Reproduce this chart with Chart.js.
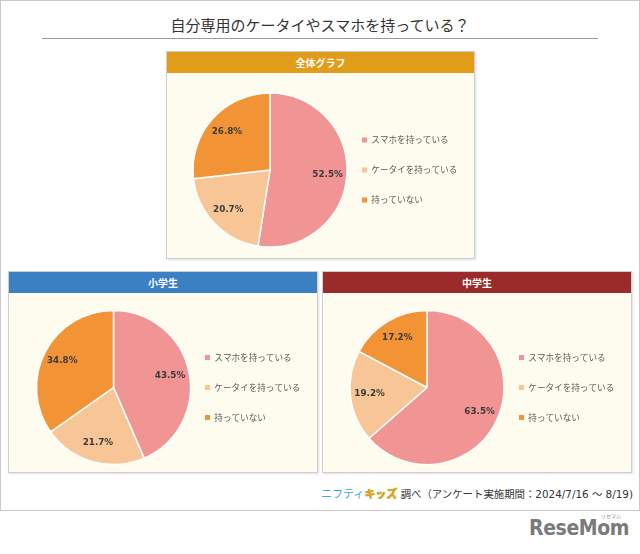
<!DOCTYPE html>
<html lang="ja">
<head>
<meta charset="utf-8">
<script src="https://cdn.jsdelivr.net/npm/chart.js@4.4.1/dist/chart.umd.min.js"></script>
<style>
  html, body { margin:0; padding:0; background:#fff; }
  body { width:640px; height:554px; position:relative; overflow:hidden;
         font-family:"DejaVu Sans","Noto Sans CJK JP",sans-serif; }
  .frame { position:absolute; left:0; top:0; width:640px; height:511px;
           box-sizing:border-box; border:1px solid #c8c8c8; }
  .title { position:absolute; left:0; top:14px; width:640px; text-align:center;
           font:15px "Noto Sans CJK JP",sans-serif; color:#333; line-height:22px; }
  .rule { position:absolute; left:42px; top:38px; width:556px; height:1px; background:#9a9a9a; }
  .panel { position:absolute; box-sizing:border-box; border:1px solid #cfcfcf;
           background:#fefcef; box-shadow:1px 1px 2px rgba(0,0,0,0.12); }
  .head { position:absolute; left:0; top:0; right:0; height:21px; color:#fff;
          font:bold 10px "Noto Sans CJK JP",sans-serif; text-align:center; line-height:21px; }
  canvas { position:absolute; }
  .foot { position:absolute; right:7px; top:485px; font-size:10.4px; line-height:16px; color:#333;
          font-family:"DejaVu Sans","Noto Sans CJK JP",sans-serif; white-space:nowrap; }
  .foot .n1 { color:#3aa6df; font-family:"Noto Sans CJK JP"; font-size:11px; }
  .foot .n2 { color:#f39a1c; font-weight:bold; font-family:"Noto Sans CJK JP"; font-size:11px;
              text-shadow:0 0 1px #7cc242, 0 0 1px #7cc242; }
  .logo { position:absolute; left:529px; top:516px; font:bold 21px "DejaVu Sans Condensed","DejaVu Sans",sans-serif;
          color:#7a7a7a; letter-spacing:-0.4px; }
  .logo small { position:absolute; left:72px; top:-4px; font:5px "Noto Sans CJK JP"; color:#888; letter-spacing:0; }
</style>
</head>
<body>
<div class="frame"></div>
<div class="title">自分専用のケータイやスマホを持っている？</div>
<div class="rule"></div>

<div class="panel" style="left:166px;top:51px;width:309px;height:208px;">
  <div class="head" style="background:#e19c1a;">全体グラフ</div>
</div>
<div class="panel" style="left:8px;top:271px;width:310px;height:202px;">
  <div class="head" style="background:#3a80c3;">小学生</div>
</div>
<div class="panel" style="left:322px;top:271px;width:310px;height:202px;">
  <div class="head" style="background:#9b2a2a;">中学生</div>
</div>

<canvas id="c0" width="307" height="185" style="left:167px;top:73px;width:307px;height:185px;"></canvas>
<canvas id="c1" width="308" height="179" style="left:9px;top:293px;width:308px;height:179px;"></canvas>
<canvas id="c2" width="308" height="179" style="left:323px;top:293px;width:308px;height:179px;"></canvas>

<div class="foot"><span class="n1">ニフティ</span><span class="n2">キッズ</span> 調べ（アンケート実施期間：2024/7/16 ～ 8/19)</div>
<div class="logo">ReseMom<small>リセマム</small></div>

<script>
// ---- data ----
const categories = ['スマホを持っている', 'ケータイを持っている', '持っていない'];
const overallValues = [52.5, 20.7, 26.8];
const elementaryValues = [43.5, 21.7, 34.8];
const juniorHighValues = [63.5, 19.2, 17.2];
const panelTitles = ['全体グラフ', '小学生', '中学生'];

const sliceColors = ['#f09494', '#f8c696', '#f29436'];

const pctLabels = {
  id: 'pctLabels',
  afterDatasetsDraw(chart) {
    const ctx = chart.ctx;
    const meta = chart.getDatasetMeta(0);
    const vals = chart.data.datasets[0].data;
    ctx.save();
    ctx.font = 'bold 8.8px "DejaVu Sans", sans-serif';
    ctx.fillStyle = '#3a3a3a';
    ctx.textAlign = 'center';
    ctx.textBaseline = 'middle';
    meta.data.forEach((arc, i) => {
      const p = arc.getProps(['x', 'y', 'startAngle', 'endAngle', 'outerRadius'], true);
      const mid = (p.startAngle + p.endAngle) / 2;
      const r = p.outerRadius * 0.75;
      ctx.fillText(vals[i].toFixed(1) + '%', p.x + Math.cos(mid) * r, p.y + Math.sin(mid) * r);
    });
    ctx.restore();
  }
};

function makePie(id, values, cx, boxX, padTop) {
  const chart = new Chart(document.getElementById(id), {
    type: 'pie',
    data: {
      labels: categories,
      datasets: [{
        data: values,
        backgroundColor: sliceColors,
        borderColor: '#ffffff',
        borderWidth: 1.5,
        radius: 77
      }]
    },
    options: {
      responsive: false,
      animation: false,
      events: [],
      layout: { padding: { left: 10, right: 10, top: padTop, bottom: 0 } },
      plugins: {
        tooltip: { enabled: false },
        legend: {
          position: 'right',
          align: 'center',
          labels: {
            boxWidth: 5,
            boxHeight: 5,
            padding: 21.3,
            color: '#595959',
            font: { size: 8.6, family: '"Noto Sans CJK JP", sans-serif' },
            generateLabels: (c) => Chart.overrides.pie.plugins.legend.labels.generateLabels(c)
              .map(l => Object.assign(l, { lineWidth: 0, strokeStyle: 'rgba(0,0,0,0)' }))
          }
        }
      }
    },
    plugins: [pctLabels]
  });
  // position pie centre and legend column within the panel
  const lg = chart.legend;
  const off = lg.legendHitBoxes[0].left - lg.left;
  const legLeft = boxX - off;
  chart.options.layout.padding.right = chart.width - lg.width - legLeft;
  chart.options.layout.padding.left = 2 * cx - legLeft;
  chart.update();
  return chart;
}

makePie('c0', overallValues, 103, 195, 9);
makePie('c1', elementaryValues, 104.5, 196, 10);
makePie('c2', juniorHighValues, 104, 196, 10);
</script>
</body>
</html>
